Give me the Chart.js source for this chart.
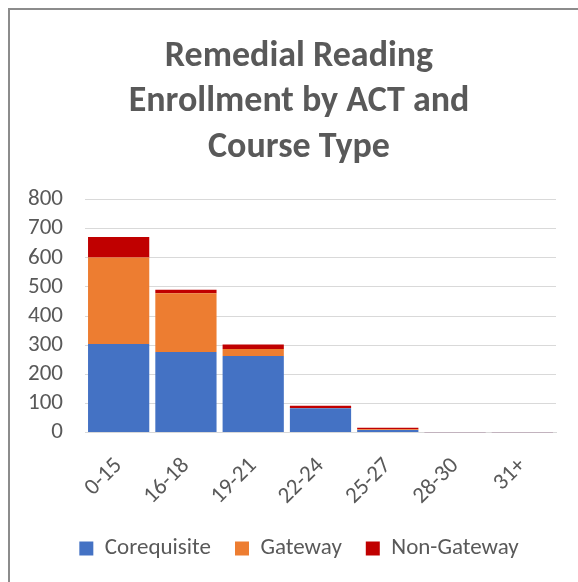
<!DOCTYPE html>
<html>
<head>
<meta charset="utf-8">
<script src="https://cdn.jsdelivr.net/npm/chart.js@4.4.1/dist/chart.umd.min.js"></script>
<style>
html,body{margin:0;padding:0;background:#fff;overflow:hidden;}
#wrap{position:absolute;left:0;top:0;width:578px;height:582px;}
</style>
</head>
<body>
<div id="wrap"><canvas id="c" width="578" height="582"></canvas></div>
<script>
const categories = ["0-15", "16-18", "19-21", "22-24", "25-27", "28-30", "31+"];
const corequisite = [304, 277, 263, 83, 9, 1, 1];
const gateway = [297, 201, 24, 1, 2, 0, 0];
const nonGateway = [71, 12, 15, 8, 5, 1, 1];
const yTicks = [0, 100, 200, 300, 400, 500, 600, 700, 800];
const titleLines = ["Remedial Reading", "Enrollment by ACT and", "Course Type"];

const FONT = "Carlito, Lato, 'Open Sans', sans-serif";
const TXT = "#595959";

const framePlugin = {
  id: 'frame',
  beforeDraw(chart) {
    const ctx = chart.ctx;
    ctx.save();
    ctx.fillStyle = '#fff';
    ctx.fillRect(0, 0, chart.width, chart.height);
    ctx.strokeStyle = '#8c8c8c';
    ctx.lineWidth = 2;
    ctx.beginPath();
    ctx.moveTo(9, chart.height + 5);
    ctx.lineTo(9, 9);
    ctx.lineTo(chart.width + 5, 9);
    ctx.stroke();
    ctx.restore();
  }
};

new Chart(document.getElementById('c'), {
  type: 'bar',
  data: {
    labels: categories,
    datasets: [
      { label: 'Corequisite', data: corequisite, backgroundColor: '#4472C4' },
      { label: 'Gateway', data: gateway, backgroundColor: '#ED7D31' },
      { label: 'Non-Gateway', data: nonGateway, backgroundColor: '#C00000' }
    ]
  },
  options: {
    responsive: false,
    animation: false,
    layout: { padding: { left: 20, right: 0, top: 24, bottom: 12 } },
    datasets: { bar: { barPercentage: 0.91, categoryPercentage: 1.0 } },
    plugins: {
      title: {
        display: true,
        text: titleLines,
        color: TXT,
        font: { family: FONT, size: 36, weight: 'bold', lineHeight: 1.265 },
        padding: { top: 10, bottom: 29 }
      },
      legend: {
        position: 'bottom',
        labels: {
          color: TXT,
          font: { family: FONT, size: 23 },
          boxWidth: 14,
          boxHeight: 14,
          padding: 24
        }
      },
      tooltip: { enabled: false }
    },
    scales: {
      x: {
        stacked: true,
        grid: { display: false, drawTicks: false },
        border: { display: true, color: '#d9d9d9', width: 1 },
        afterFit(scale) { scale.height = scale.height - 17; },
        ticks: {
          color: TXT,
          font: { family: FONT, size: 23 },
          minRotation: 45,
          maxRotation: 45,
          padding: 20
        }
      },
      y: {
        stacked: true,
        min: 0,
        max: 800,
        afterBuildTicks(scale) { scale.ticks = yTicks.map(v => ({ value: v })); },
        afterFit(scale) { scale.width = 65; },
        grid: { color: '#d9d9d9', lineWidth: 1, drawTicks: false },
        border: { display: false },
        ticks: {
          color: TXT,
          font: { family: FONT, size: 23 },
          padding: 22,
          autoSkip: false
        }
      },
      yRight: {
        position: 'right',
        display: true,
        min: 0,
        max: 800,
        afterFit(scale) { scale.width = 22; },
        grid: { display: false, drawTicks: false },
        border: { display: false },
        ticks: { display: false }
      }
    }
  },
  plugins: [framePlugin]
});
</script>
</body>
</html>
